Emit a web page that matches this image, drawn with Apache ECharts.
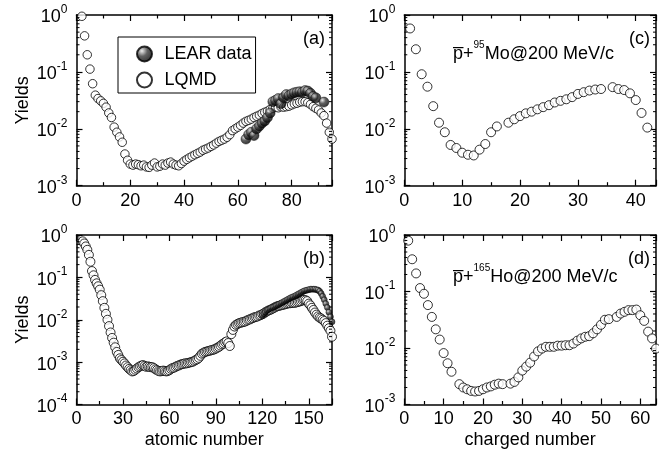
<!DOCTYPE html>
<html><head><meta charset="utf-8">
<script src="https://cdn.jsdelivr.net/npm/echarts@6/dist/echarts.min.js"></script>
<style>html,body{margin:0;padding:0;background:#fff}#c{width:659px;height:463px}</style>
</head><body><div id="c"></div>
<script>
const FONT = "'Liberation Sans', Arial, Helvetica, sans-serif";

// Panel (a): LQMD yields, Z = 2 .. 95
const zStartA = 2;
const lqmdA = [0.95,0.43,0.20,0.112,0.062,0.039,0.034,0.031,0.028,0.024,0.019,0.0158,0.0107,0.0087,0.0072,0.0058,0.0036,0.0028,0.0024,0.0023,
 0.0024,0.00234,0.00224,0.0023,0.00214,0.0021,0.0023,0.0025,0.00214,0.0022,0.0024,0.0023,0.0025,0.0026,0.0024,0.0023,0.00224,0.00245,0.0027,0.0029,
 0.0031,0.0033,0.0035,0.0037,0.0039,0.0042,0.0044,0.0046,0.0049,0.0052,0.0056,0.006,0.0063,0.0066,0.0071,0.0079,0.0093,0.010,0.0107,0.0115,
 0.0126,0.0135,0.0141,0.0148,0.0158,0.0166,0.0174,0.0186,0.0195,0.0204,0.0219,0.0229,0.024,0.0234,0.0245,0.024,0.0245,0.025,0.0263,0.0275,
 0.0282,0.0295,0.030,0.030,0.0288,0.0269,0.0245,0.0229,0.0214,0.019,0.017,0.0126,0.0087,0.0066];
// Panel (a): LEAR data
const learZA = [63,64,65,66,67,68,69,70,71,72,73,74,75,76,77,78,79,80,81,82,83,84,85,86,87,88,89,92];
const learA = [0.0066,0.0079,0.0087,0.0076,0.010,0.0112,0.0126,0.0138,0.0158,0.019,0.030,0.0316,0.034,0.0275,0.0355,0.040,0.038,0.041,0.043,0.044,0.045,0.044,0.047,0.046,0.042,0.037,0.035,0.0295];

// Panel (b): LQMD yields, Z = 4 .. 165
const zStartB = 4;
const lqmdB = [0.708,0.631,0.537,0.447,0.339,0.234,0.141,0.112,0.0871,0.0724,0.0617,0.0513,0.038,0.0275,0.0191,0.0138,0.01,0.00708,0.00501,0.00372,
 0.00288,0.00224,0.00174,0.00148,0.00123,0.00112,0.00102,0.000933,0.000832,0.000759,0.000692,0.000646,0.000603,0.000617,0.000661,0.000708,0.000759,0.000794,0.000832,0.000851,
 0.000813,0.000776,0.000794,0.000776,0.000759,0.000759,0.000724,0.000676,0.000646,0.000617,0.000603,0.000617,0.000631,0.000617,0.000603,0.000617,0.000646,0.000692,0.000724,0.000741,
 0.000776,0.000813,0.000832,0.000871,0.000891,0.000912,0.000933,0.000933,0.000955,0.000977,0.001,0.00102,0.00107,0.00112,0.00117,0.00126,0.00141,0.00158,0.00166,0.00174,
 0.00178,0.00182,0.00186,0.00191,0.00195,0.002,0.00209,0.00219,0.00229,0.00245,0.00263,0.00275,0.00295,0.00309,0.00282,0.0024,0.00457,0.00575,0.00692,0.00759,
 0.00794,0.00832,0.00851,0.00871,0.00891,0.00912,0.00955,0.01,0.0102,0.0107,0.011,0.0115,0.0117,0.012,0.0126,0.0129,0.0135,0.0141,0.0151,0.0158,
 0.0166,0.017,0.0178,0.0186,0.0195,0.0204,0.0209,0.0214,0.0219,0.0224,0.0229,0.0234,0.024,0.0245,0.0245,0.0251,0.0251,0.0251,0.0257,0.0263,
 0.0269,0.0275,0.0288,0.0295,0.0288,0.0275,0.024,0.0219,0.0191,0.017,0.0148,0.0132,0.012,0.0112,0.0107,0.01,0.00933,0.00832,0.00724,0.00631,
 0.0055,0.00398];
// Panel (b): LEAR data, Z = 120 .. 165
const learZStartB = 120;
const learB = [0.0126,0.0138,0.0151,0.0166,0.0174,0.0182,0.0191,0.0195,0.0204,0.0214,0.0224,0.0234,0.0245,0.0257,0.0269,0.0282,0.0295,0.0309,0.0324,0.0339,
 0.0347,0.0363,0.038,0.0398,0.0417,0.0437,0.0457,0.0479,0.049,0.0501,0.0513,0.0525,0.0525,0.0525,0.0525,0.0513,0.0501,0.0468,0.0417,0.0355,
 0.0295,0.024,0.0195,0.0151,0.0117,0.00891];

// Panel (c): pbar + 95Mo
const zC = [1,2,3,4,5,6,7,8,9,10,11,12,13,14,15,16,18,19,20,21,22,23,24,25,26,27,28,29,30,31,32,33,34,36,37,38,39,40,41,42];
const yC = [0.58,0.25,0.091,0.055,0.025,0.0128,0.0087,0.0052,0.0046,0.0038,0.0035,0.0034,0.0043,0.0054,0.0087,0.011,0.0128,0.0147,0.0167,0.0187,
 0.020,0.022,0.024,0.026,0.029,0.031,0.033,0.036,0.041,0.044,0.047,0.049,0.050,0.054,0.050,0.048,0.042,0.032,0.019,0.0105];

// Panel (d): pbar + 165Ho
const zD = [1,2,3,4,5,6,7,8,9,10,11,12,14,15,16,17,18,19,20,21,22,23,24,25,27,28,29,30,31,32,33,34,35,36,37,38,39,40,41,42,43,44,45,46,47,48,49,50,51,52,54,55,56,57,58,59,60,61,62,63,64];
const yD = [0.794,0.372,0.209,0.115,0.0912,0.0575,0.0355,0.0214,0.0141,0.00813,0.00537,0.0038,0.00229,0.002,0.00186,0.00174,0.0017,0.00174,0.00186,0.002,
 0.00209,0.00224,0.00234,0.00229,0.00234,0.00251,0.00302,0.00398,0.00468,0.0055,0.00708,0.00871,0.00977,0.0105,0.0105,0.0105,0.011,0.011,0.0112,0.0112,
 0.012,0.0135,0.0148,0.0158,0.0162,0.0182,0.0214,0.0257,0.0316,0.0324,0.0355,0.0407,0.0437,0.0468,0.0468,0.0479,0.038,0.0302,0.0195,0.0148,0.00977];

const xTicksA = {min:0, max:95, interval:20, step:20};
const xTicksB = {min:0, max:165, interval:30, step:30};
const xTicksC = {min:0, max:43.5, interval:10, step:10};
const xTicksD = {min:0, max:64, interval:10, step:10};

const FS = 18;
const grids = [
  {left:76.5, top:15, width:255.5, height:170.7},
  {left:76.5, top:235, width:255.5, height:169.5},
  {left:404.3, top:15, width:251.7, height:170.7},
  {left:404.3, top:235, width:251.7, height:169.5}
];

function xAxes(g, t, name) {
  const common = {
    type:'value', gridIndex:g, min:t.min, max:t.max, interval:t.interval,
    axisLine:{show:true, onZero:false, lineStyle:{color:'#000', width:1.5}},
    axisTick:{show:true, inside:true, length:6, lineStyle:{color:'#000', width:1.2}},
    minorTick:{show:true, splitNumber:2, length:3.5, lineStyle:{color:'#000', width:1.2}},
    splitLine:{show:false}, minorSplitLine:{show:false}
  };
  return [
    Object.assign({}, common, {position:'bottom',
      axisLabel:{show:true, color:'#000', fontSize:FS, fontFamily:FONT, margin:6,
        formatter: v => (Math.abs(v % t.step) < 1e-9 ? String(v) : '')},
      name: name || '', nameLocation:'middle', nameGap:27,
      nameTextStyle:{color:'#000', fontSize:FS, fontFamily:FONT}}),
    Object.assign({}, common, {position:'top', axisLabel:{show:false}})
  ];
}
function yAxes(g, min, name) {
  const common = {
    type:'log', logBase:10, gridIndex:g, min:min, max:1,
    axisLine:{show:true, onZero:false, lineStyle:{color:'#000', width:1.5}},
    axisTick:{show:true, inside:true, length:6, lineStyle:{color:'#000', width:1.2}},
    splitLine:{show:false}
  };
  return [
    Object.assign({}, common, {position:'left',
      axisLabel:{show:true, margin:9, fontFamily:FONT, color:'#000',
        formatter: v => '{b|10}{s|' + Math.round(Math.log10(v)) + '}',
        rich:{b:{fontSize:FS, lineHeight:23, verticalAlign:'bottom', fontFamily:FONT, color:'#000'},
              s:{fontSize:12, lineHeight:12, verticalAlign:'top', fontFamily:FONT, color:'#000'}}},
      name: name || '', nameLocation:'middle', nameGap:44, nameRotate:90,
      nameTextStyle:{color:'#000', fontSize:FS, fontFamily:FONT}}),
    Object.assign({}, common, {position:'right', axisLabel:{show:false}})
  ];
}

function minorTicks(xi, yi, xmin, xmax, dmin) {
  return {
    type:'custom', xAxisIndex:xi, yAxisIndex:yi, silent:true, clip:false, z:5,
    data:[[xmin, 1]],
    renderItem: function (params, api) {
      const children = [];
      for (let d = dmin; d < 0; d++) {
        for (let m = 2; m <= 9; m++) {
          const v = m * Math.pow(10, d);
          const pL = api.coord([xmin, v]);
          const pR = api.coord([xmax, v]);
          children.push({type:'line', shape:{x1:pL[0], y1:pL[1], x2:pL[0] + 3, y2:pL[1]}, style:{stroke:'#000', lineWidth:1}});
          children.push({type:'line', shape:{x1:pR[0] - 3, y1:pR[1], x2:pR[0], y2:pR[1]}, style:{stroke:'#000', lineWidth:1}});
        }
      }
      return {type:'group', children:children};
    }
  };
}

const sphere = {type:'radial', x:0.35, y:0.32, r:0.7,
  colorStops:[{offset:0, color:'#e8e8e8'}, {offset:0.45, color:'#3a3a3a'}, {offset:1, color:'#000'}]};
const openStyle = {color:'#fff', borderColor:'#000', borderWidth:1};

const lqmdASeries = lqmdA.map((v, i) => [zStartA + i, v]);
const learASeries = learZA.map((z, i) => [z, learA[i]]);
const lqmdBSeries = lqmdB.map((v, i) => [zStartB + i, v]);
const learBSeries = learB.map((v, i) => [learZStartB + i, v]);
const cSeries = zC.map((z, i) => [z, yC[i]]);
const dSeries = zD.map((z, i) => [z, yD[i]]);

const titleRich = {
  n:{fontSize:FS, lineHeight:23, verticalAlign:'bottom', fontFamily:FONT, color:'#000'},
  s:{fontSize:10, lineHeight:10, verticalAlign:'top', fontFamily:FONT, color:'#000'}
};
function panelLabel(txt, right, top) {
  return {text:txt, right:right, top:top, padding:0,
    textStyle:{fontSize:FS, fontWeight:'normal', fontFamily:FONT, color:'#000'}};
}

const option = {
  backgroundColor:'#fff',
  animation:false,
  grid: grids,
  xAxis: [].concat(xAxes(0, xTicksA), xAxes(1, xTicksB, 'atomic number'), xAxes(2, xTicksC), xAxes(3, xTicksD, 'charged number')),
  yAxis: [].concat(yAxes(0, 0.001, 'Yields'), yAxes(1, 0.0001, 'Yields'), yAxes(2, 0.001), yAxes(3, 0.001)),
  title: [
    panelLabel('(a)', 334, 30),
    panelLabel('(b)', 334, 250),
    panelLabel('(c)', 9, 30),
    panelLabel('(d)', 9, 250),
    {text:'{n|p\u0305+}{s|95}{n|Mo@200 MeV/c}', left:453, top:40, padding:0,
      textStyle:{rich:titleRich, fontSize:FS, fontWeight:'normal', fontFamily:FONT}},
    {text:'{n|p\u0305+}{s|165}{n|Ho@200 MeV/c}', left:453, top:263, padding:0,
      textStyle:{rich:titleRich, fontSize:FS, fontWeight:'normal', fontFamily:FONT}}
  ],
  legend: {
    data:['LEAR data', 'LQMD'], orient:'vertical', left:118, top:37,
    padding:[8, 4, 4, 18], itemWidth:30, itemHeight:15, itemGap:8,
    borderColor:'#000', borderWidth:1, backgroundColor:'#fff',
    textStyle:{fontSize:FS, lineHeight:16, fontFamily:FONT, color:'#000'},
    selectedMode:false
  },
  series: [
    {name:'LQMD', type:'scatter', xAxisIndex:0, yAxisIndex:0, data:lqmdASeries, symbol:'circle', symbolSize:8.5, itemStyle:openStyle, z:2},
    {name:'LEAR data', type:'scatter', xAxisIndex:0, yAxisIndex:0, data:learASeries, symbol:'circle', symbolSize:10, itemStyle:{color:sphere, borderColor:'#000', borderWidth:0.5}, z:3},
    {name:'LQMD', type:'scatter', xAxisIndex:2, yAxisIndex:2, data:lqmdBSeries, symbol:'circle', symbolSize:9, itemStyle:openStyle, z:2},
    {name:'LEAR data', type:'scatter', xAxisIndex:2, yAxisIndex:2, data:learBSeries, symbol:'circle', symbolSize:6, itemStyle:{color:sphere, borderColor:'#000', borderWidth:0.5}, z:3},
    {name:'c', type:'scatter', xAxisIndex:4, yAxisIndex:4, data:cSeries, symbol:'circle', symbolSize:9, itemStyle:openStyle, z:2},
    {name:'d', type:'scatter', xAxisIndex:6, yAxisIndex:6, data:dSeries, symbol:'circle', symbolSize:9, itemStyle:openStyle, z:2},
    minorTicks(0, 0, xTicksA.min, xTicksA.max, -3),
    minorTicks(2, 2, xTicksB.min, xTicksB.max, -4),
    minorTicks(4, 4, xTicksC.min, xTicksC.max, -3),
    minorTicks(6, 6, xTicksD.min, xTicksD.max, -3)
  ]
};
const chart = echarts.init(document.getElementById('c'), null, {renderer:'canvas'});
chart.setOption(option);
</script>
</body></html>
